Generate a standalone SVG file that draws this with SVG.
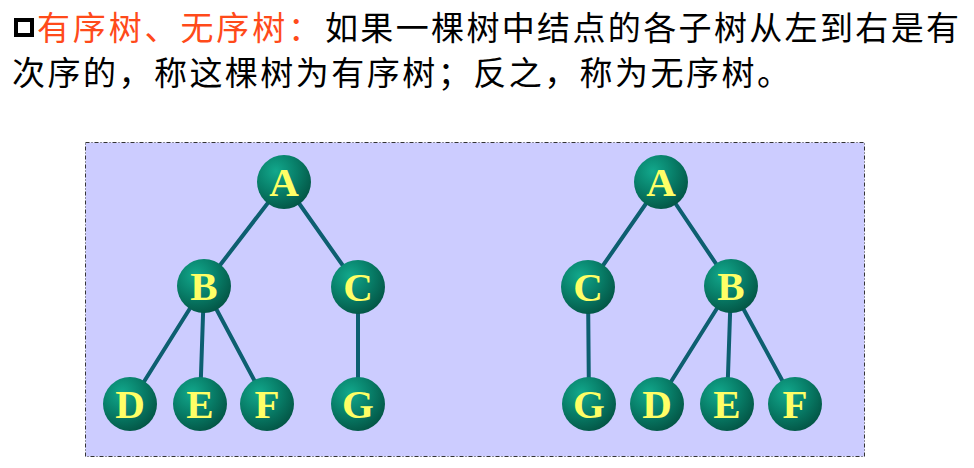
<svg xmlns="http://www.w3.org/2000/svg" width="974" height="468" viewBox="0 0 974 468">
<style>
.cjk{font-family:"Noto Sans CJK SC","Liberation Sans",sans-serif;font-size:33px;}
.lbl{font-family:"Liberation Serif","Times New Roman",serif;font-weight:bold;font-size:41px;fill:#FFFF66;text-anchor:middle;}
.edge{stroke:#0D5F70;stroke-width:4;stroke-linecap:round;}
.ball{fill:url(#ballGrad);}
</style>
<defs>
<radialGradient id="ballGrad" cx="0.35" cy="0.3" r="0.75">
<stop offset="0" stop-color="#12A88C"/>
<stop offset="0.5" stop-color="#08806A"/>
<stop offset="1" stop-color="#035545"/>
</radialGradient>
</defs>
<rect width="974" height="468" fill="#FFFFFF"/>
<rect x="16" y="20" width="16" height="15" fill="none" stroke="#000" stroke-width="4"/>
<text class="cjk" x="37" y="40" fill="#FF4A1A" textLength="284" lengthAdjust="spacing">有序树、无序树：</text>
<text class="cjk" x="325" y="40" fill="#000" textLength="634" lengthAdjust="spacing">如果一棵树中结点的各子树从左到右是有</text>
<text class="cjk" x="12" y="85" fill="#000" textLength="778" lengthAdjust="spacing">次序的，称这棵树为有序树；反之，称为无序树。</text>
<rect x="85.5" y="142.5" width="779" height="314" fill="#CCCCFF" stroke="#333" stroke-width="1" stroke-dasharray="4,2,1,2"/>
<g id="connectors">
<line class="edge" x1="284" y1="182" x2="204" y2="286"/>
<line class="edge" x1="284" y1="182" x2="358" y2="287"/>
<line class="edge" x1="204" y1="286" x2="130" y2="404"/>
<line class="edge" x1="204" y1="286" x2="200" y2="404"/>
<line class="edge" x1="204" y1="286" x2="267" y2="404"/>
<line class="edge" x1="358" y1="287" x2="358" y2="404"/>
<line class="edge" x1="661" y1="182" x2="588" y2="287"/>
<line class="edge" x1="661" y1="182" x2="731" y2="286"/>
<line class="edge" x1="588" y1="287" x2="589" y2="404"/>
<line class="edge" x1="731" y1="286" x2="657" y2="404"/>
<line class="edge" x1="731" y1="286" x2="727" y2="404"/>
<line class="edge" x1="731" y1="286" x2="795" y2="404"/>
</g>
<g id="L_A"><circle class="ball" cx="284" cy="182" r="27"/><text class="lbl" x="284" y="196">A</text></g>
<g id="L_B"><circle class="ball" cx="204" cy="286" r="27"/><text class="lbl" x="204" y="300">B</text></g>
<g id="L_C"><circle class="ball" cx="358" cy="287" r="27"/><text class="lbl" x="358" y="301">C</text></g>
<g id="L_D"><circle class="ball" cx="130" cy="404" r="27"/><text class="lbl" x="130" y="418">D</text></g>
<g id="L_E"><circle class="ball" cx="200" cy="404" r="27"/><text class="lbl" x="200" y="418">E</text></g>
<g id="L_F"><circle class="ball" cx="267" cy="404" r="27"/><text class="lbl" x="267" y="418">F</text></g>
<g id="L_G"><circle class="ball" cx="358" cy="404" r="27"/><text class="lbl" x="358" y="418">G</text></g>
<g id="R_A"><circle class="ball" cx="661" cy="182" r="27"/><text class="lbl" x="661" y="196">A</text></g>
<g id="R_C"><circle class="ball" cx="588" cy="287" r="27"/><text class="lbl" x="588" y="301">C</text></g>
<g id="R_B"><circle class="ball" cx="731" cy="286" r="27"/><text class="lbl" x="731" y="300">B</text></g>
<g id="R_G"><circle class="ball" cx="589" cy="404" r="27"/><text class="lbl" x="589" y="418">G</text></g>
<g id="R_D"><circle class="ball" cx="657" cy="404" r="27"/><text class="lbl" x="657" y="418">D</text></g>
<g id="R_E"><circle class="ball" cx="727" cy="404" r="27"/><text class="lbl" x="727" y="418">E</text></g>
<g id="R_F"><circle class="ball" cx="795" cy="404" r="27"/><text class="lbl" x="795" y="418">F</text></g>
</svg>
